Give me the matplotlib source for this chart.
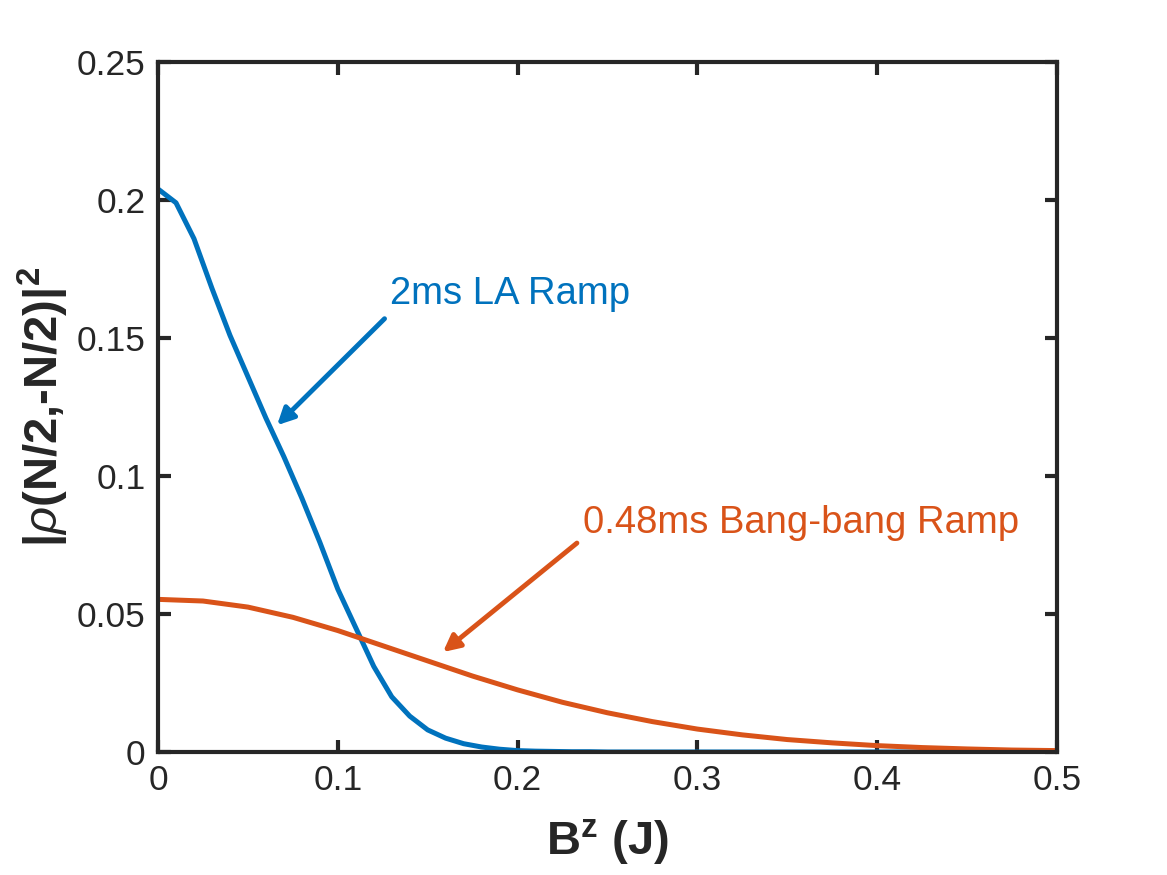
import numpy as np
import matplotlib
matplotlib.use("Agg")
import matplotlib.pyplot as plt

# blue curve: 2ms LA ramp, sampled every 0.01
bz_la = np.round(np.arange(0, 0.501, 0.01), 3)
rho_la = [0.204, 0.199, 0.186, 0.168, 0.151, 0.136, 0.121, 0.107, 0.092, 0.076,
          0.059, 0.045, 0.031, 0.020, 0.013, 0.008, 0.005, 0.003, 0.0018, 0.001,
          0.0005, 0.0003, 0.0002, 0.0001, 0.0001] + [0.0] * 26

# orange curve: 0.48ms bang-bang ramp
bz_bb = np.round(np.arange(0, 0.501, 0.025), 3)
rho_bb = [0.0553, 0.0547, 0.0525, 0.0488, 0.0440, 0.0385, 0.0330, 0.0275, 0.0225,
          0.0180, 0.0142, 0.0110, 0.0083, 0.0062, 0.0045, 0.0033, 0.0023, 0.0016,
          0.0011, 0.0007, 0.0005]

BLUE = "#0072BD"
ORANGE = "#D95319"
INK = "#262626"

plt.rcParams["font.family"] = "Liberation Sans"
plt.rcParams["mathtext.fontset"] = "custom"
plt.rcParams["mathtext.rm"] = "Liberation Sans"
plt.rcParams["mathtext.bf"] = "Liberation Sans:bold"
plt.rcParams["mathtext.it"] = "Liberation Sans:italic"

fig = plt.figure(figsize=(11.67, 8.75), dpi=100)
ax = fig.add_axes([0.1354, 0.1406, 0.7703, 0.7885])

ax.plot(bz_la, rho_la, color=BLUE, lw=3.6)
ax.plot(bz_bb, rho_bb, color=ORANGE, lw=3.6)

ax.set_xlim(0, 0.5)
ax.set_ylim(0, 0.25)
ax.set_xticks([0, 0.1, 0.2, 0.3, 0.4, 0.5])
ax.set_xticklabels(["0", "0.1", "0.2", "0.3", "0.4", "0.5"])
ax.set_yticks([0, 0.05, 0.1, 0.15, 0.2, 0.25])
ax.set_yticklabels(["0", "0.05", "0.1", "0.15", "0.2", "0.25"])

for s in ax.spines.values():
    s.set_linewidth(3.0)
    s.set_color(INK)
ax.tick_params(direction="in", length=9, width=3, top=True, right=True,
               labelsize=25.5, colors=INK, pad=9)

ax.set_xlabel(r"$\mathbf{B^{z}}$ (J)", fontsize=34, fontweight="bold",
              color=INK, labelpad=14)
ax.set_ylabel("$\\mathbf{|}\\rho\\mathbf{(N/2{,}\u2010N/2)|^{2}}$", fontsize=34,
              color=INK, labelpad=4)

arrow = dict(arrowstyle="-|>,head_length=1.0,head_width=0.5", lw=3.5,
             shrinkA=0, shrinkB=0)
ax.annotate("", xy=(0.0662, 0.1184), xytext=(0.126, 0.157),
            arrowprops=dict(arrow, color=BLUE))
ax.text(0.129, 0.166, "2ms LA Ramp", color=BLUE, fontsize=27.5, va="center")

ax.annotate("", xy=(0.1585, 0.0362), xytext=(0.233, 0.0757),
            arrowprops=dict(arrow, color=ORANGE))
ax.text(0.2364, 0.0829, "0.48ms Bang-bang Ramp", color=ORANGE, fontsize=27.5,
        va="center")

fig.savefig("out.png", dpi=100)
